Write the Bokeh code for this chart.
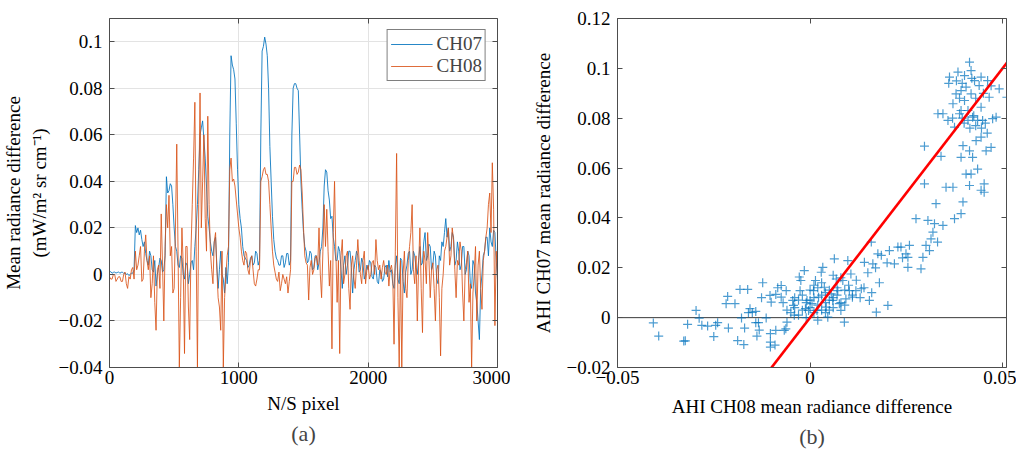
import numpy as np
from bokeh.plotting import figure
from bokeh.models import (FixedTicker, LinearAxis, Span, Legend, LegendItem, Title,
                          Range1d, CustomJSTickFormatter)
from bokeh.layouts import row
from bokeh.embed import file_html
from bokeh.resources import INLINE

# ---------------- data: panel (a) ----------------
pixel = list(range(0, 3001, 10))
ch07 = [
    0.001, 0.0012, 0.0005, 0.0009, 0.001, 0.0006, 0.0008, 0.0011, 0.0005, 0.0009,
    0.001, 0.0004, 0.0007, 0.0, 0.0003, -0.0005, 0.0, 0.0006, 0.0005, 0.002,
    0.021, 0.018, 0.020, 0.017, 0.019, 0.015, 0.012, 0.014, 0.009, 0.006,
    0.004, 0.010, 0.008, 0.002, 0.001, 0.006, -0.005, 0.000, 0.003, 0.007,
    0.006, 0.001, 0.002, 0.008, 0.042, 0.035, 0.036, 0.039, 0.038, 0.030,
    0.020, 0.012, 0.010, 0.004, 0.003, 0.008, 0.007, 0.000, -0.002, 0.005,
    0.004, -0.004, 0.000, 0.005, 0.006, 0.002, 0.012, 0.020, 0.030, 0.045,
    0.060, 0.063, 0.066, 0.058, 0.050, 0.038, 0.025, 0.020, 0.014, 0.010,
    0.008, 0.014, 0.016, 0.004, -0.006, 0.002, 0.010, 0.000, -0.002, -0.008,
    0.003, -0.004, 0.005, 0.060, 0.094, 0.090, 0.088, 0.084, 0.065, 0.045,
    0.030, 0.024, 0.020, 0.012, 0.008, 0.007, 0.006, 0.003, 0.004, 0.007,
    0.008, 0.004, 0.005, 0.010, 0.009, 0.004, 0.006, 0.060, 0.096, 0.098,
    0.102, 0.099, 0.094, 0.080, 0.055, 0.040, 0.025, 0.015, 0.010, 0.007,
    0.006, 0.004, 0.004, 0.008, 0.008, 0.003, 0.005, 0.009, 0.009, 0.004,
    0.006, 0.060, 0.080, 0.082, 0.082, 0.080, 0.079, 0.060, 0.040, 0.028,
    0.018, 0.012, 0.010, 0.005, 0.006, 0.010, 0.009, 0.002, 0.003, 0.008,
    0.008, 0.002, 0.005, 0.010, 0.012, 0.020, 0.038, 0.045, 0.044, 0.036,
    0.032, 0.024, 0.025, 0.016, 0.012, 0.006, 0.006, 0.012, 0.010, 0.002,
    -0.006, 0.004, 0.008, 0.000, 0.004, 0.010, 0.010, 0.003, -0.008, 0.002,
    0.006, 0.010, 0.008, 0.001, 0.002, 0.007, 0.005, -0.002, 0.000, 0.004,
    0.002, 0.006, 0.005, -0.001, -0.002, 0.004, 0.003, -0.003, -0.004, 0.002,
    0.001, -0.003, -0.002, 0.003, 0.004, -0.001, 0.006, 0.001, 0.002, -0.004,
    -0.006, 0.004, 0.008, -0.002, -0.004, 0.007, 0.006, -0.003, -0.008, 0.001,
    0.004, 0.009, 0.010, 0.000, 0.002, 0.010, 0.008, 0.003, 0.000, 0.006,
    0.012, 0.004, 0.005, 0.014, 0.018, 0.006, 0.008, 0.013, 0.012, 0.002,
    0.004, 0.010, 0.008, -0.002, -0.004, 0.008, 0.006, 0.014, 0.012, 0.018,
    0.024, 0.016, 0.020, 0.010, 0.012, 0.018, 0.016, 0.004, 0.006, 0.014,
    0.010, 0.002, 0.004, 0.012, 0.012, 0.000, 0.002, 0.010, 0.008, -0.004,
    -0.006, 0.006, 0.004, -0.008, -0.012, -0.020, -0.028, -0.006, 0.000, 0.008,
    0.010, 0.016, 0.016, 0.008, 0.020, 0.014, 0.012, 0.019, 0.018, 0.006,
    -0.002,
]
ch08 = [
    -0.001, -0.002, -0.002, 0.000, 0.000, -0.003, -0.002, -0.001, -0.001, -0.003,
    -0.003, 0.000, 0.001, -0.004, -0.006, -0.001, -0.002, 0.002, 0.003, -0.002,
    0.010, 0.002, 0.004, 0.008, 0.012, -0.003, -0.002, 0.010, 0.017, 0.006,
    0.002, 0.008, -0.010, -0.004, 0.008, -0.012, -0.024, 0.002, 0.004, -0.006,
    0.026, 0.004, -0.020, 0.012, 0.030, 0.020, 0.034, 0.008, 0.012, -0.008,
    -0.006, 0.020, 0.056, 0.010, -0.040, -0.010, 0.020, 0.004, -0.034, 0.012,
    0.012, -0.014, -0.028, 0.010, 0.030, 0.050, 0.074, 0.010, -0.040, 0.030,
    0.078, 0.020, 0.040, 0.060, 0.024, 0.010, 0.068, 0.030, 0.010, 0.002,
    -0.004, 0.014, 0.018, 0.002, -0.010, -0.014, -0.024, 0.010, -0.040, -0.010,
    0.000, 0.008, 0.012, 0.045, 0.050, 0.040, 0.041, 0.038, 0.032, 0.026,
    0.020, 0.016, 0.010, 0.006, 0.004, 0.010, 0.009, 0.002, 0.000, 0.006,
    0.008, 0.002, -0.004, -0.005, -0.002, 0.002, 0.002, 0.040, 0.042, 0.045,
    0.046, 0.043, 0.043, 0.040, 0.030, 0.020, 0.010, 0.004, 0.001, -0.002,
    -0.003, 0.001, -0.007, -0.004, 0.000, -0.002, -0.004, -0.001, -0.008, -0.003,
    0.002, 0.040, 0.040, 0.046, 0.046, 0.043, 0.044, 0.047, 0.045, 0.035,
    0.020, 0.008, 0.005, 0.004, -0.011, 0.003, 0.006, 0.000, 0.002, 0.007,
    0.008, 0.004, 0.020, 0.000, -0.010, 0.010, 0.030, 0.012, 0.028, 0.010,
    -0.005, 0.006, -0.032, 0.018, 0.040, 0.010, -0.012, 0.006, -0.034, 0.008,
    0.015, -0.004, 0.000, 0.008, 0.010, -0.006, -0.015, 0.004, 0.008, -0.002,
    -0.006, 0.004, 0.015, 0.006, 0.000, -0.004, 0.006, 0.010, -0.004, 0.002,
    0.004, -0.002, 0.000, 0.005, 0.006, 0.000, 0.015, 0.006, 0.002, 0.004,
    -0.002, 0.003, 0.006, 0.001, 0.000, 0.004, -0.005, 0.002, 0.004, 0.000,
    -0.030, 0.010, 0.052, -0.010, -0.040, 0.006, -0.040, 0.000, 0.010, -0.006,
    -0.010, 0.006, 0.012, 0.018, 0.030, 0.002, -0.004, 0.008, -0.020, 0.004,
    0.020, -0.006, -0.025, 0.010, 0.006, -0.004, 0.018, 0.006, -0.010, 0.002,
    0.005, -0.006, -0.020, 0.002, 0.004, -0.010, -0.035, -0.006, 0.000, 0.010,
    0.012, 0.016, 0.020, 0.004, 0.008, 0.020, 0.015, 0.002, -0.010, 0.006,
    0.004, 0.014, 0.010, -0.008, -0.020, 0.002, 0.005, 0.010, -0.012, -0.004,
    -0.040, -0.008, 0.000, 0.012, -0.020, 0.004, 0.010, -0.006, -0.015, 0.006,
    0.010, 0.016, 0.020, 0.030, 0.035, 0.018, 0.048, 0.028, -0.022, 0.010,
    0.000,
]

# ---------------- data: panel (b) ----------------
sc_ch08 = [
    -0.0407, -0.0393, -0.0328, -0.0324, -0.0318, -0.0296, -0.0288, -0.0281, -0.0266, -0.0250,
    -0.0245, -0.0240, -0.0212, -0.0214, -0.0218, -0.0195, -0.0188, -0.0172, -0.0182, -0.0162,
    -0.0156, -0.0160, -0.0178, -0.0170, -0.0150, -0.0141, -0.0141, -0.0138, -0.0134, -0.0132,
    -0.0123, -0.0126, -0.0104, -0.0101, -0.0114, -0.0103, -0.0103, -0.0103, -0.0091, -0.0089,
    -0.0084, -0.0089,
    -0.0075, -0.0075, -0.0067, -0.0063, -0.0062, -0.0060, -0.0045, -0.0043, -0.0041, -0.0028,
    -0.0026, -0.0024, -0.0015, -0.0012, -0.0008, -0.0004, 0.0005, 0.0009, 0.0014, 0.0018,
    0.0022, 0.0029, 0.0033, 0.0037, 0.0042, 0.0046, 0.0055, 0.0059, 0.0063, 0.0068,
    0.0072, 0.0076, 0.0080, 0.0085, 0.0089, 0.0093, 0.0098, 0.0102, 0.0106, 0.0110,
    0.0119, 0.0133, 0.0141, 0.0154, 0.0159, 0.0172, 0.0176, 0.0163, 0.0185, 0.0202,
    0.0206, 0.0219, 0.0228, 0.0236, 0.0249, 0.0254, 0.0258, 0.0254, 0.0275, 0.0288,
    0.0293, 0.0301, 0.0306, 0.0310, 0.0314, 0.0319, 0.0323, 0.0327, 0.0331, 0.0345,
    0.0375, 0.0392, 0.0397, 0.0444,
    0.0297, 0.0297, 0.0340, 0.0353, 0.0371, 0.0332, 0.0345, 0.0358, 0.0362, 0.0371,
    0.0375, 0.0384, 0.0388, 0.0392, 0.0392, 0.0397, 0.0401, 0.0401, 0.0405, 0.0410,
    0.0414, 0.0414, 0.0418, 0.0418, 0.0418, 0.0422, 0.0427, 0.0431, 0.0435, 0.0435,
    0.0439, 0.0444, 0.0444, 0.0448, 0.0452, 0.0452, 0.0457, 0.0461, 0.0465, 0.0470,
    0.0474, 0.0491, 0.0511, 0.0483, 0.0444, 0.0379, 0.0392, 0.0410, 0.0414, 0.0422,
    0.0380, 0.0395, 0.0405, 0.0420, 0.0430, 0.0400, 0.0415, 0.0430, 0.0445, 0.0455,
    0.0460, 0.0425, 0.0395, 0.0370, 0.0360, 0.0388, 0.0450, 0.0470,
    -0.0040, -0.0030, -0.0020, -0.0010, 0.0000, 0.0010, 0.0020, 0.0030, 0.0040, 0.0050,
    0.0060, 0.0070, 0.0080, -0.0020, 0.0000, 0.0020, 0.0040, 0.0060, -0.0050, -0.0030,
    0.0010, 0.0030, 0.0050, 0.0070, 0.0090, 0.0100, 0.0120, 0.0110, -0.0010, 0.0020,
    0.0040, 0.0080, 0.0060, 0.0030, 0.0010, -0.0040, -0.0060, -0.0070, 0.0000, 0.0050,
    0.0090, 0.0130, 0.0140, 0.0160, 0.0180, 0.0200, 0.0170, 0.0240, 0.0150,
]
sc_ch07 = [
    -0.0021, -0.0074, -0.0094, -0.0093, -0.0027, 0.0029, -0.0002, -0.0031, -0.0034, -0.0076,
    -0.0031, -0.0020, -0.0042, 0.0085, 0.0056, 0.0056, -0.0092, -0.0108, 0.0113, 0.0113,
    0.0036, 0.0020, -0.0001, -0.0042, 0.0021, 0.0025, -0.0020, -0.0074, -0.0020, -0.0050,
    0.0140, 0.0080, 0.0089, 0.0062, -0.0001, -0.0098, -0.0118, -0.0064, -0.0110, 0.0093,
    0.0120, -0.0051,
    0.0129, 0.0082, -0.0051, -0.0045, 0.0108, -0.0018, 0.0069, 0.0049, 0.0010, 0.0163,
    0.0108, 0.0149, 0.0189, 0.0036, 0.0069, 0.0029, 0.0056, 0.0108, 0.0149, 0.0029,
    0.0082, 0.0182, 0.0202, 0.0122, 0.0042, 0.0002, 0.0095, 0.0069, 0.0236, 0.0155,
    0.0108, 0.0056, 0.0029, 0.0149, -0.0018, 0.0075, 0.0229, 0.0108, 0.0175, 0.0082,
    0.0108, 0.0116, 0.0222, 0.0069, 0.0303, 0.0022, 0.0256, 0.0216, 0.0250, 0.0049,
    0.0269, 0.0216, 0.0283, 0.0283, 0.0256, 0.0242, 0.0290, 0.0202, 0.0397, 0.0196,
    0.0242, 0.0290, 0.0390, 0.0269, 0.0316, 0.0343, 0.0377, 0.0457, 0.0303, 0.0370,
    0.0397, 0.0417, 0.0464, 0.0511,
    0.0688, 0.0537, 0.0647, 0.0523, 0.0523, 0.0818, 0.0818, 0.0791, 0.0965, 0.0858,
    0.0764, 0.0985, 0.0818, 0.0911, 0.0643, 0.0690, 0.0971, 0.0871, 0.0576, 0.0791,
    0.1025, 0.0669, 0.0991, 0.0898, 0.0576, 0.0804, 0.0951, 0.0710, 0.0791, 0.0596,
    0.0931, 0.0844, 0.0724, 0.0791, 0.0537, 0.0503, 0.0669, 0.0951, 0.0884, 0.0683,
    0.0798, 0.0918, 0.0884, 0.0804, 0.0965, 0.0898, 0.0831, 0.0831, 0.0530, 0.0643,
    0.0950, 0.0940, 0.0925, 0.0960, 0.0880, 0.0780, 0.0760, 0.0770, 0.0760, 0.0780,
    0.0740, 0.0810, 0.0800, 0.0800, 0.0940, 0.0880, 0.0900, 0.0930,
    0.0040, 0.0070, 0.0030, 0.0060, 0.0040, 0.0080, 0.0050, 0.0090, 0.0060, 0.0030,
    0.0080, 0.0120, 0.0060, 0.0090, 0.0110, 0.0120, 0.0100, 0.0040, 0.0020, 0.0010,
    0.0020, 0.0030, 0.0070, 0.0090, 0.0110, 0.0130, 0.0150, 0.0090, 0.0000, -0.0010,
    0.0020, 0.0160, 0.0170, 0.0140, 0.0130, 0.0080, 0.0030, 0.0060, 0.0070, 0.0110,
    0.0050, 0.0080, 0.0120, 0.0100, 0.0140, 0.0220, 0.0200, 0.0240, 0.0180,
]
fit_slope = 2.0
fit_intercept = 0.0
fit_x = [-0.02, 0.06]

a_xticks = [0, 1000, 2000, 3000]
a_yticks = [-0.04, -0.02, 0, 0.02, 0.04, 0.06, 0.08, 0.1]
b_xticks = [-0.05, 0, 0.05]
b_yticks = [-0.02, 0, 0.02, 0.04, 0.06, 0.08, 0.1, 0.12]

# ---------------- styling ----------------
FONT = "Liberation Serif"
BLUE = "#0072BD"
ORANGE = "#D95319"
AX = "#4d4d4d"
TICK_FS = "19px"
LAB_FS = "19px"

fmt_code = "var s = (Math.round(tick*10000)/10000).toString(); return s.replace('-', '\u2212');"


def style_axis(ax, ticks, show_labels=True, standoff=7):
    ax.ticker = FixedTicker(ticks=ticks)
    ax.formatter = CustomJSTickFormatter(code=fmt_code)
    ax.major_tick_in = 5
    ax.major_tick_out = 0
    ax.minor_tick_line_color = None
    ax.axis_line_color = AX
    ax.major_tick_line_color = AX
    ax.axis_line_width = 1
    ax.major_label_text_font = FONT
    ax.major_label_text_color = "black"
    ax.axis_label_text_font = FONT
    ax.axis_label_text_font_size = LAB_FS
    ax.axis_label_text_font_style = "normal"
    ax.axis_label_text_color = "black"
    if show_labels:
        ax.major_label_text_font_size = TICK_FS
        ax.major_label_standoff = standoff
    else:
        ax.major_label_text_font_size = "0px"
        ax.major_label_standoff = 0


def add_box_axes(p, xt, yt):
    top = LinearAxis()
    style_axis(top, xt, show_labels=False)
    p.add_layout(top, "above")
    right = LinearAxis()
    style_axis(right, yt, show_labels=False)
    p.add_layout(right, "right")


# ---------------- panel (a) ----------------
pa = figure(width=510, height=450, output_backend="svg", toolbar_location=None,
            x_range=Range1d(0, 3000), y_range=Range1d(-0.04, 0.11),
            min_border_left=109, min_border_right=13, min_border_top=18, min_border_bottom=83)
pa.outline_line_color = None
style_axis(pa.xaxis[0], a_xticks, standoff=3)
style_axis(pa.yaxis[0], a_yticks, standoff=7)
pa.xaxis[0].axis_label = "N/S pixel"
pa.xaxis[0].axis_label_standoff = 6
pa.yaxis[0].axis_label = "Mean radiance difference\n(mW/m\u00b2 sr cm\u207b\u00b9)"
pa.yaxis[0].axis_label_standoff = 6
add_box_axes(pa, a_xticks, a_yticks)
pa.xgrid.ticker = FixedTicker(ticks=a_xticks)
pa.ygrid.ticker = FixedTicker(ticks=a_yticks)
pa.xgrid.grid_line_color = "#e3e3e3"
pa.ygrid.grid_line_color = "#e3e3e3"

r1 = pa.line(pixel, ch07, line_color=BLUE, line_width=1, line_alpha=0.85)
r2 = pa.line(pixel, ch08, line_color=ORANGE, line_width=1, line_alpha=0.85)
leg = Legend(items=[LegendItem(label="CH07", renderers=[r1]),
                    LegendItem(label="CH08", renderers=[r2])],
             location="top_right", border_line_color="black", border_line_width=1,
             label_text_font=FONT, label_text_font_size="19px", label_text_line_height=0.9,
             glyph_width=42, glyph_height=16, label_height=16, spacing=0,
             padding=3, margin=11, label_standoff=4, background_fill_alpha=1)
pa.add_layout(leg)
pa.add_layout(Title(text="(a)", align="center", text_font=FONT, text_font_size="22px",
                    text_font_style="normal", standoff=4), "below")

# ---------------- panel (b) ----------------
pb = figure(width=506, height=450, output_backend="svg", toolbar_location=None,
            x_range=Range1d(-0.05, 0.051), y_range=Range1d(-0.02, 0.12),
            min_border_left=107, min_border_right=10, min_border_top=18, min_border_bottom=83)
pb.outline_line_color = None
pb.grid.visible = False
style_axis(pb.xaxis[0], b_xticks, standoff=3)
style_axis(pb.yaxis[0], b_yticks, standoff=7)
pb.xaxis[0].axis_label = "AHI CH08 mean radiance difference"
pb.xaxis[0].axis_label_standoff = 9
pb.yaxis[0].axis_label = "AHI CH07 mean radiance difference"
pb.yaxis[0].axis_label_standoff = 10
add_box_axes(pb, b_xticks, b_yticks)
pb.add_layout(Span(location=0, dimension="width", line_color="#3a3a3a", line_width=1,
                   level="underlay"))
pb.scatter(sc_ch08, sc_ch07, marker="cross", size=9, line_color=BLUE, line_width=1.2,
           line_alpha=0.7)
fit_y = [fit_slope * x + fit_intercept for x in fit_x]
pb.line(fit_x, fit_y, line_color="#ff0000", line_width=2.6)
pb.add_layout(Title(text="(b)", align="center", text_font=FONT, text_font_size="22px",
                    text_font_style="normal", standoff=4), "below")

layout = row(pa, pb)
open("out.html", "w").write(file_html(layout, INLINE))
